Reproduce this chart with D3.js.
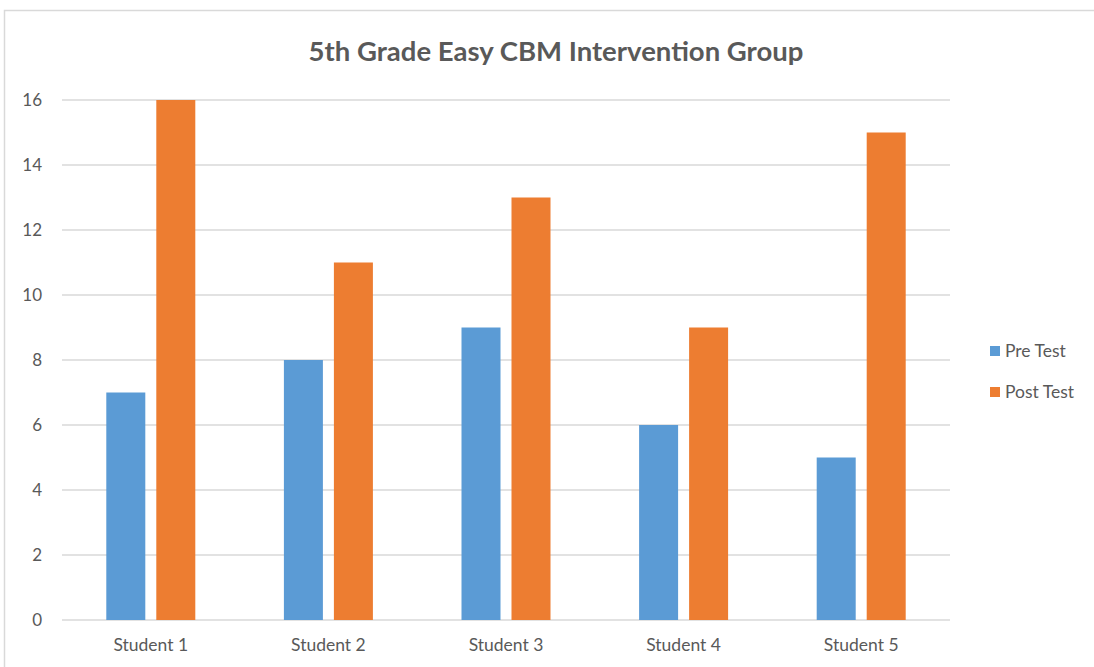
<!DOCTYPE html>
<html>
<head>
<meta charset="utf-8">
<script src="https://cdn.jsdelivr.net/npm/d3@7"></script>
<style>
  body { margin: 0; background: #fff; }
  text { font-family: Lato, "Open Sans", sans-serif; fill: #595959; }
</style>
</head>
<body>
<div id="chart"></div>
<script>
// data
var students = ['Student 1', 'Student 2', 'Student 3', 'Student 4', 'Student 5'];
var seriesNames = ['Pre Test', 'Post Test'];
var preTest = [7, 8, 9, 6, 5];
var postTest = [16, 11, 13, 9, 15];
var yTicks = [0, 2, 4, 6, 8, 10, 12, 14, 16];
var colors = ['#5B9BD5', '#ED7D31'];

var width = 1094;
var height = 667;
var plot = {'left': 62, 'right': 950, 'top': 100, 'bottom': 620};

var svg = d3.select('#chart')
    .append('svg')
    .attr('width', width)
    .attr('height', height);

// chart border
svg.append('rect')
    .attr('x', 4.5)
    .attr('y', 10.5)
    .attr('width', 1200)
    .attr('height', 800)
    .style('fill', 'none')
    .style('stroke', '#d9d9d9')
    .style('stroke-width', 1.5);

var x = d3.scaleBand()
    .domain(students)
    .range([plot.left, plot.right]);

var y = d3.scaleLinear()
    .domain([0, 16])
    .range([plot.bottom, plot.top]);

// bars inside a group: 39px wide with an 11px gap
var barWidth = 39;
var barGap = 11;
var x1 = d3.scaleBand()
    .domain(seriesNames)
    .range([-(barWidth + barGap / 2), barWidth + barGap / 2])
    .paddingInner(barGap / (barWidth + barGap))
    .paddingOuter(0);

// gridlines
svg.append('g')
    .selectAll('line')
    .data(yTicks)
    .enter()
    .append('line')
    .attr('x1', plot.left)
    .attr('x2', plot.right)
    .attr('y1', function(d){ return y(d); })
    .attr('y2', function(d){ return y(d); })
    .style('stroke', '#d9d9d9')
    .style('stroke-width', 1.5);

// y labels
svg.append('g')
    .selectAll('text')
    .data(yTicks)
    .enter()
    .append('text')
    .attr('x', 42)
    .attr('y', function(d){ return y(d) + 6; })
    .attr('text-anchor', 'end')
    .style('font-size', '17px')
    .text(function(d){ return d; });

// bars
var series = [preTest, postTest];
series.forEach(function(values, s){
    svg.append('g')
        .selectAll('rect')
        .data(values)
        .enter()
        .append('rect')
        .attr('x', function(d, i){ return x(students[i]) + x.bandwidth() / 2 + x1(seriesNames[s]); })
        .attr('y', function(d){ return y(d); })
        .attr('width', x1.bandwidth())
        .attr('height', function(d){ return y(0) - y(d); })
        .style('fill', colors[s]);
});

// x labels
svg.append('g')
    .selectAll('text')
    .data(students)
    .enter()
    .append('text')
    .attr('x', function(d){ return x(d) + x.bandwidth() / 2; })
    .attr('y', 651)
    .attr('text-anchor', 'middle')
    .style('font-size', '17.5px')
    .text(function(d){ return d; });

// title
svg.append('text')
    .attr('x', 556)
    .attr('y', 61)
    .attr('text-anchor', 'middle')
    .style('font-size', '27.5px')
    .style('font-weight', 'bold')
    .text('5th Grade Easy CBM Intervention Group');

// legend
var legend = svg.append('g');
seriesNames.forEach(function(name, i){
    legend.append('rect')
        .attr('x', 990)
        .attr('y', 346 + i * 41)
        .attr('width', 10)
        .attr('height', 10)
        .style('fill', colors[i]);
    legend.append('text')
        .attr('x', 1005)
        .attr('y', 357 + i * 41)
        .style('font-size', '17.5px')
        .text(name);
});
</script>
</body>
</html>
